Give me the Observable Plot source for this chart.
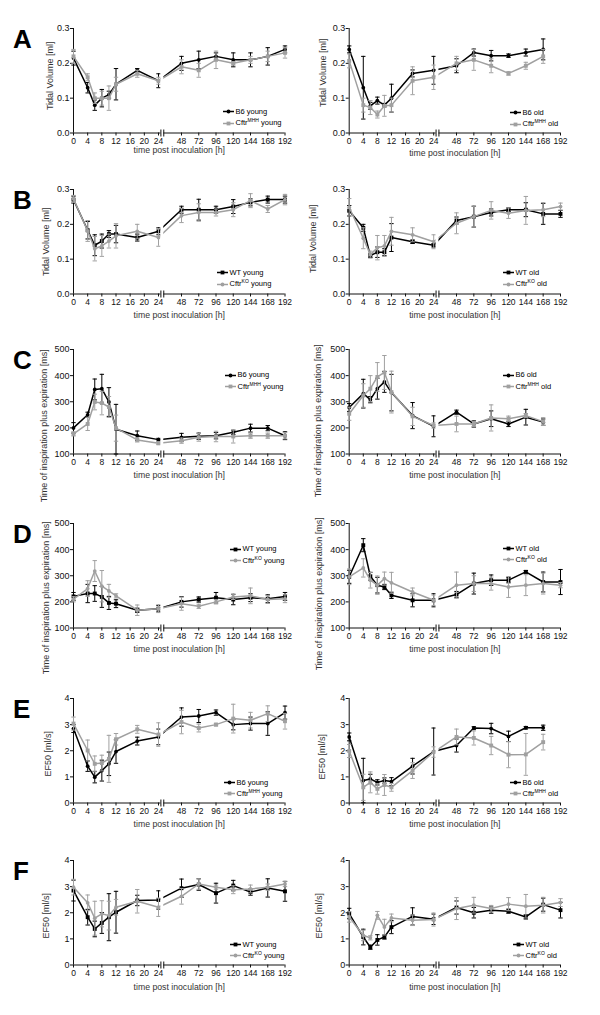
<!DOCTYPE html>
<html><head><meta charset="utf-8">
<script src="https://cdn.jsdelivr.net/npm/d3@7"></script>
<script src="https://cdn.jsdelivr.net/npm/@observablehq/plot@0.6"></script>
<style>
body{margin:0;background:#fff;font-family:"Liberation Sans",Arial,sans-serif;}
#fig{position:relative;width:600px;height:1015px;overflow:hidden;background:#fff;}
.panel{position:absolute;}
.letter{position:absolute;font-weight:bold;font-size:26px;line-height:1;color:#000;}
.legend{position:absolute;font-size:7.5px;color:#000;line-height:1;}
.legend .row{display:flex;align-items:center;height:11.5px;white-space:nowrap;}
.legend svg{margin-right:1.5px;}
.legend sup{font-size:5px;vertical-align:3px;line-height:0;}
</style></head><body><div id="fig"></div><script>
// ---------- data ----------
const hoursFull = [0,4,6,8,10,12,18,24,48,72,96,120,144,168,192];
const hoursTo168 = [0,4,6,8,10,12,18,24,48,72,96,120,144,168];
const xTicks = [0,4,8,12,16,20,24,48,72,96,120,144,168,192];
const xTitle = "time post inoculation [h]";

// Panel A: tidal volume, B6 vs Cftr MHH
const tvB6Young     = [0.215,0.13,0.08,0.10,0.11,0.14,0.18,0.15,0.20,0.21,0.22,0.21,0.21,0.22,0.24];
const tvB6YoungSem  = [0.02,0.015,0.015,0.025,0.01,0.045,0.005,0.02,0.02,0.025,0.01,0.02,0.02,0.025,0.01];
const tvMhhYoung    = [0.22,0.16,0.10,0.10,0.10,0.14,0.17,0.15,0.19,0.18,0.21,0.20,0.21,0.22,0.23];
const tvMhhYoungSem = [0.02,0.01,0.015,0.02,0.035,0.02,0.01,0.01,0.02,0.02,0.025,0.005,0.01,0.015,0.015];
const tvB6Old       = [0.24,0.13,0.078,0.093,0.08,0.10,0.171,0.18,0.193,0.231,0.222,0.222,0.231,0.24];
const tvB6OldSem    = [0.01,0.09,0.01,0.01,0.005,0.04,0.01,0.04,0.02,0.01,0.015,0.005,0.01,0.03];
const tvMhhOld      = [0.207,0.08,0.073,0.053,0.078,0.08,0.15,0.16,0.20,0.21,0.193,0.171,0.193,0.22];
const tvMhhOldSem   = [0.02,0.02,0.02,0.01,0.03,0.02,0.04,0.035,0.02,0.03,0.02,0.005,0.01,0.02];
// Panel B: tidal volume, WT vs Cftr KO
const tvWtYoung     = [0.271,0.183,0.14,0.152,0.172,0.172,0.162,0.18,0.242,0.242,0.242,0.251,0.263,0.271,0.271];
const tvWtYoungSem  = [0.01,0.025,0.03,0.02,0.01,0.025,0.01,0.01,0.01,0.03,0.01,0.02,0.01,0.01,0.01];
const tvKoYoung     = [0.273,0.181,0.13,0.138,0.152,0.167,0.18,0.162,0.225,0.234,0.234,0.242,0.268,0.244,0.271];
const tvKoYoungSem  = [0.01,0.03,0.035,0.03,0.02,0.035,0.02,0.025,0.02,0.025,0.01,0.02,0.02,0.01,0.015];
const tvWtOld       = [0.239,0.19,0.11,0.12,0.12,0.162,0.15,0.14,0.211,0.222,0.234,0.242,0.242,0.23,0.23];
const tvWtOldSem    = [0.015,0.01,0.005,0.015,0.01,0.04,0.005,0.005,0.01,0.03,0.01,0.005,0.02,0.03,0.01];
const tvKoOld       = [0.249,0.16,0.113,0.133,0.138,0.18,0.17,0.15,0.203,0.222,0.24,0.232,0.24,0.242,0.251];
const tvKoOldSem    = [0.025,0.03,0.01,0.035,0.03,0.04,0.02,0.02,0.03,0.03,0.025,0.015,0.04,0.02,0.01];
// Panel C: time of inspiration plus expiration, B6 vs Cftr MHH
const ttB6Young     = [200,250,347,350,299,195,170,155,164,168,170,183,199,199,170];
const ttB6YoungSem  = [20,10,40,55,55,95,18,5,15,12,12,8,15,10,15];
const ttMhhYoung    = [177,215,299,295,280,199,154,141,151,164,167,167,170,170,170];
const ttMhhYoungSem = [8,25,30,45,40,50,8,5,10,15,20,25,10,10,12];
const ttB6Old       = [278,331,308,350,376,335,247,206,260,215,235,215,241,222];
const ttB6OldSem    = [15,55,12,40,40,70,50,40,8,12,30,10,30,12];
const ttMhhOld      = [254,324,350,395,412,337,244,209,215,215,238,235,247,224];
const ttMhhOldSem   = [25,45,50,55,65,80,35,10,30,10,50,10,8,15];
// Panel D: time of inspiration plus expiration, WT vs Cftr KO
const ttWtYoung     = [221,232,232,219,196,193,168,174,200,209,216,209,216,212,221];
const ttWtYoungSem  = [15,35,30,40,25,15,8,12,20,10,20,20,15,15,15];
const ttKoYoung     = [210,251,318,260,242,223,168,174,193,183,200,219,223,209,212];
const ttKoYoungSem  = [10,30,40,60,25,8,20,15,25,8,8,10,30,15,15];
const ttWtOld       = [296,417,298,264,257,225,206,206,228,270,283,283,315,276,276];
const ttWtOldSem    = [25,25,15,30,10,12,25,25,12,40,20,10,5,38,48];
const ttKoOld       = [296,330,283,264,289,273,238,206,264,270,270,257,264,270,264];
const ttKoOldSem    = [30,35,30,35,25,40,15,20,50,30,25,40,40,40,10];
// Panel E: EF50, B6 vs Cftr MHH
const efB6Young     = [2.85,1.41,0.99,1.24,1.5,1.97,2.37,2.53,3.29,3.33,3.46,3.0,3.04,3.04,3.46];
const efB6YoungSem  = [0.15,0.2,0.22,0.4,0.45,0.45,0.15,0.3,0.35,0.25,0.1,0.2,0.25,0.45,0.25];
const efMhhYoung    = [3.04,2.01,1.5,1.53,1.69,2.44,2.82,2.62,3.1,2.87,3.0,3.23,3.17,3.42,3.13];
const efMhhYoungSem = [0.25,0.4,0.3,0.3,0.9,0.22,0.15,0.45,0.45,0.15,0.05,0.55,0.3,0.3,0.3];
const efB6Old       = [2.53,0.86,0.92,0.79,0.86,0.82,1.41,1.97,2.2,2.87,2.85,2.55,2.88,2.88];
const efB6OldSem    = [0.15,0.85,0.18,0.1,0.1,0.15,0.3,0.9,0.25,0.05,0.2,0.2,0.05,0.1];
const efMhhOld      = [1.99,0.6,0.79,0.54,0.69,0.6,1.24,1.95,2.53,2.49,2.2,1.85,1.86,2.33];
const efMhhOldSem   = [0.25,0.5,0.4,0.2,0.4,0.15,0.3,0.2,0.3,0.27,0.35,0.5,0.8,0.3];
// Panel F: EF50, WT vs Cftr KO
const efWtYoung     = [2.85,1.83,1.38,1.61,1.83,2.02,2.47,2.49,2.94,3.08,2.75,3.04,2.79,2.95,2.82];
const efWtYoungSem  = [0.4,0.3,0.3,0.4,0.9,0.8,0.2,0.35,0.35,0.22,0.38,0.2,0.12,0.35,0.38];
const efKoYoung     = [2.98,2.38,1.79,1.96,1.89,2.21,2.44,2.21,2.63,3.1,2.98,2.88,2.91,2.98,3.1];
const efKoYoungSem  = [0.3,0.3,0.65,0.5,0.55,0.3,0.45,0.35,0.3,0.2,0.08,0.15,0.15,0.12,0.1];
const efWtOld       = [1.97,1.07,0.68,0.96,1.07,1.45,1.86,1.75,2.2,2.0,2.1,2.06,1.84,2.31,2.1];
const efWtOldSem    = [0.2,0.3,0.08,0.2,0.08,0.25,0.33,0.2,0.25,0.2,0.12,0.08,0.08,0.25,0.3];
const efKoOld       = [1.84,1.13,1.04,1.9,1.45,1.8,1.71,1.74,2.16,2.29,2.16,2.33,2.25,2.29,2.39];
const efKoOldSem    = [0.2,0.2,0.08,0.15,0.3,0.15,0.2,0.25,0.42,0.3,0.12,0.25,0.45,0.3,0.15];

// ---------- layout ----------
const ink = "#111", black = "#000", gray = "#a0a0a0";
const rows = [
  {letter:"A", top:27.7, yDomain:[0,0.3], yTicks:[0,0.1,0.2,0.3], fmt:d3.format(".1f"), ylabel:"Tidal Volume [ml]"},
  {letter:"B", top:189, yDomain:[0,0.3], yTicks:[0,0.1,0.2,0.3], fmt:d3.format(".1f"), ylabel:"Tidal Volume [ml]"},
  {letter:"C", top:349.3, yDomain:[100,500], yTicks:[100,200,300,400,500], fmt:d3.format("d"), ylabel:"Time of inspiration plus expiration [ms]"},
  {letter:"D", top:523.3, yDomain:[100,500], yTicks:[100,200,300,400,500], fmt:d3.format("d"), ylabel:"Time of inspiration plus expiration [ms]"},
  {letter:"E", top:698.3, yDomain:[0,4], yTicks:[0,1,2,3,4], fmt:d3.format("d"), ylabel:"EF50 [ml/s]"},
  {letter:"F", top:860, yDomain:[0,4], yTicks:[0,1,2,3,4], fmt:d3.format("d"), ylabel:"EF50 [ml/s]"}
];
const cols = [
  {left:0, range:[73,158,181,284.5]},
  {left:300, range:[48.7,133.2,156,260]}
];
const panels = [
  {row:0,col:0,hours:hoursFull,b:tvB6Young,bs:tvB6YoungSem,g:tvMhhYoung,gs:tvMhhYoungSem,bn:"B6 young",gn:"Cftr<sup>MHH</sup> young",bsym:"circle",gsym:"square",leg:[223,111.7],lab:[-23,-5],xt:20},
  {row:0,col:1,hours:hoursTo168,b:tvB6Old,bs:tvB6OldSem,g:tvMhhOld,gs:tvMhhOldSem,bn:"B6 old",gn:"Cftr<sup>MHH</sup> old",bsym:"circle",gsym:"square",leg:[510,112.7],lab:[-26,-8],xt:23},
  {row:1,col:0,hours:hoursFull,b:tvWtYoung,bs:tvWtYoungSem,g:tvKoYoung,gs:tvKoYoungSem,bn:"WT young",gn:"Cftr<sup>KO</sup> young",bsym:"square",gsym:"circle",leg:[217,272.7],lab:[-27,0],xt:24},
  {row:1,col:1,hours:hoursFull,b:tvWtOld,bs:tvWtOldSem,g:tvKoOld,gs:tvKoOldSem,bn:"WT old",gn:"Cftr<sup>KO</sup> old",bsym:"square",gsym:"circle",leg:[503,272.7],lab:[-36,-3],xt:24},
  {row:2,col:0,hours:hoursFull,b:ttB6Young,bs:ttB6YoungSem,g:ttMhhYoung,gs:ttMhhYoungSem,bn:"B6 young",gn:"Cftr<sup>MHH</sup> young",bsym:"circle",gsym:"square",leg:[225,375],lab:[-29,24],xt:23.5},
  {row:2,col:1,hours:hoursTo168,b:ttB6Old,bs:ttB6OldSem,g:ttMhhOld,gs:ttMhhOldSem,bn:"B6 old",gn:"Cftr<sup>MHH</sup> old",bsym:"circle",gsym:"square",leg:[503,375],lab:[-31,19],xt:23.5},
  {row:3,col:0,hours:hoursFull,b:ttWtYoung,bs:ttWtYoungSem,g:ttKoYoung,gs:ttKoYoungSem,bn:"WT young",gn:"Cftr<sup>KO</sup> young",bsym:"square",gsym:"circle",leg:[230,549],lab:[-27,22],xt:24},
  {row:3,col:1,hours:hoursFull,b:ttWtOld,bs:ttWtOldSem,g:ttKoOld,gs:ttKoOldSem,bn:"WT old",gn:"Cftr<sup>KO</sup> old",bsym:"square",gsym:"circle",leg:[503,548.3],lab:[-30,18],xt:24},
  {row:4,col:0,hours:hoursFull,b:efB6Young,bs:efB6YoungSem,g:efMhhYoung,gs:efMhhYoungSem,bn:"B6 young",gn:"Cftr<sup>MHH</sup> young",bsym:"circle",gsym:"square",leg:[224,782.3],lab:[-25.5,3],xt:24},
  {row:4,col:1,hours:hoursTo168,b:efB6Old,bs:efB6OldSem,g:efMhhOld,gs:efMhhOldSem,bn:"B6 old",gn:"Cftr<sup>MHH</sup> old",bsym:"circle",gsym:"square",leg:[510,782.3],lab:[-27,6],xt:24},
  {row:5,col:0,hours:hoursFull,b:efWtYoung,bs:efWtYoungSem,g:efKoYoung,gs:efKoYoungSem,bn:"WT young",gn:"Cftr<sup>KO</sup> young",bsym:"square",gsym:"circle",leg:[230,944.3],lab:[-27,3],xt:24.5},
  {row:5,col:1,hours:hoursFull,b:efWtOld,bs:efWtOldSem,g:efKoOld,gs:efKoOldSem,bn:"WT old",gn:"Cftr<sup>KO</sup> old",bsym:"square",gsym:"circle",leg:[513,944.3],lab:[-30,3],xt:24.5}
];
const breakLo = 26.5, breakHi = 29.5;
const capSymbol = {draw(ctx){ ctx.moveTo(-2.2,0); ctx.lineTo(2.2,0); }};
const breakSymbol = {draw(ctx){ ctx.moveTo(0,-3.5); ctx.lineTo(0,3.5); }};

const fig = document.getElementById("fig");
const MT = 20, PH = 104.5, H = 172;

function seriesMarks(data, color, sym) {
  return [
    Plot.ruleX(data, {x:"t", y1:d=>d.v-d.e, y2:d=>d.v+d.e, stroke:color, strokeWidth:1}),
    Plot.dot(data, {x:"t", y:d=>d.v+d.e, symbol:capSymbol, stroke:color, fill:"none", strokeWidth:1}),
    Plot.dot(data, {x:"t", y:d=>d.v-d.e, symbol:capSymbol, stroke:color, fill:"none", strokeWidth:1}),
    Plot.line(data, {x:"t", y:"v", stroke:color, strokeWidth:1.5}),
    Plot.dot(data, {x:"t", y:"v", symbol:sym, r: sym === "square" ? 2.2 : 1.9, fill:color, stroke:"none"})
  ];
}

function legendSwatch(color, sym) {
  const s = sym === "square"
    ? `<rect x="3.6" y="1.6" width="3.8" height="3.8" fill="${color}"/>`
    : `<circle cx="5.5" cy="3.5" r="1.9" fill="${color}"/>`;
  return `<svg width="11" height="7"><line x1="0" x2="11" y1="3.5" y2="3.5" stroke="${color}" stroke-width="1.5"/>${s}</svg>`;
}

for (const p of panels) {
  const row = rows[p.row], col = cols[p.col];
  const [ymin, ymax] = row.yDomain;
  const bData = p.hours.map((t,i)=>({t, v:p.b[i], e:p.bs[i]}));
  const gData = p.hours.map((t,i)=>({t, v:p.g[i], e:p.gs[i]}));
  const chart = Plot.plot({
    width: 300, height: H,
    marginTop: MT, marginBottom: H - MT - PH,
    marginLeft: col.range[0], marginRight: 300 - col.range[3],
    x: {type:"linear", domain:[0,24,48,192], range:col.range},
    y: {type:"linear", domain:row.yDomain, range:[MT+PH, MT]},
    style: {background:"transparent", overflow:"visible", fontFamily:"'Liberation Sans', Arial, sans-serif", fontSize:"9px", color:ink},
    marks: [
      Plot.ruleY([ymin], {x1:0, x2:192, stroke:ink, strokeWidth:1}),
      Plot.ruleX([0], {y1:ymin, y2:ymax, stroke:ink, strokeWidth:1}),
      Plot.axisX(xTicks, {tickSize:3, tickPadding:1.5, fontSize:8.5, tickFormat:d=>String(d), label:null, stroke:ink, fill:ink}),
      Plot.axisY(row.yTicks, {tickSize:3, tickPadding:1, fontSize:9, tickFormat:row.fmt, label:null, stroke:ink, fill:ink}),
      ...seriesMarks(bData, black, p.bsym),
      ...seriesMarks(gData, gray, p.gsym),
      Plot.rect([0], {x1:()=>breakLo, x2:()=>breakHi, y1:()=>ymin, y2:()=>ymax, fill:"white", insetBottom:-4}),
      Plot.dot([breakLo, breakHi], {x:d=>d, y:()=>ymin, symbol:breakSymbol, stroke:ink, fill:"none", strokeWidth:1}),
      Plot.text([row.ylabel], {text:d=>d, frameAnchor:"left", textAnchor:"middle", rotate:-90, dx:p.lab[0], dy:p.lab[1], fontSize:9, fill:"#333"}),
      Plot.text([xTitle], {text:d=>d, frameAnchor:"bottom", textAnchor:"middle", dy:p.xt, fontSize:8.7, fill:"#333"})
    ]
  });
  const holder = document.createElement("div");
  holder.className = "panel";
  holder.style.left = col.left + "px";
  holder.style.top = (row.top - MT) + "px";
  holder.appendChild(chart);
  fig.appendChild(holder);

  const lg = document.createElement("div");
  lg.className = "legend";
  lg.style.left = p.leg[0] + "px";
  lg.style.top = (p.leg[1] - 5.75) + "px";
  lg.innerHTML = `<div class="row">${legendSwatch(black,p.bsym)}<span>${p.bn}</span></div>` +
                 `<div class="row">${legendSwatch(gray,p.gsym)}<span>${p.gn}</span></div>`;
  fig.appendChild(lg);

  if (p.col === 0) {
    const L = document.createElement("div");
    L.className = "letter";
    L.textContent = row.letter;
    L.style.left = "13px";
    L.style.top = (row.top - 2) + "px";
    fig.appendChild(L);
  }
}
</script></body></html>
